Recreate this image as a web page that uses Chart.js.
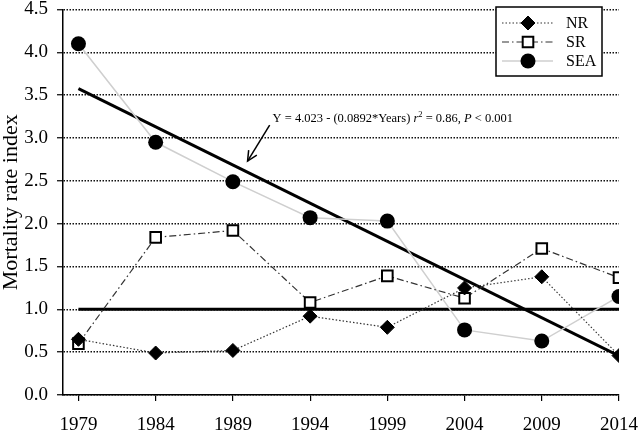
<!DOCTYPE html>
<html>
<head>
<meta charset="utf-8">
<script src="https://cdn.jsdelivr.net/npm/chart.js@4/dist/chart.umd.min.js"></script>
<style>
  html, body { margin: 0; padding: 0; background: #fff; }
  #wrap { width: 640px; height: 430px; }
</style>
</head>
<body>
<div id="wrap"><canvas id="c" width="640" height="430"></canvas></div>
<script>
// ---- data ----
const years = [1979, 1984, 1989, 1994, 1999, 2004, 2009, 2014];
const nrValues  = [0.65, 0.49, 0.52, 0.92, 0.79, 1.25, 1.38, 0.46];
const srValues  = [0.60, 1.84, 1.92, 1.08, 1.39, 1.13, 1.71, 1.37];
const seaValues = [4.10, 2.95, 2.49, 2.07, 2.03, 0.76, 0.63, 1.15];
const trendYears  = [1979, 2014];
const trendValues = [3.577, 0.455];
const refYears  = [1979, 2014];
const refValues = [1.0, 1.0];
const yTickValues = [0, 0.5, 1.0, 1.5, 2.0, 2.5, 3.0, 3.5, 4.0, 4.5];
const seriesNames = ['NR', 'SR', 'SEA'];
const yAxisTitle = 'Mortality rate index';
const equationParts = [
  ['Y = 4.023 - (0.0892*Years) ', 'n'],
  ['r', 'i'], ['2', 's'],
  [' = 0.86, ', 'n'],
  ['P', 'i'],
  [' < 0.001', 'n']
];

const FONT = '"Liberation Serif", "Times New Roman", serif';
const pts = (xs, ys) => xs.map((x, i) => ({ x: x, y: ys[i] }));

const datasets = [
  {
    label: seriesNames[0], data: pts(years, nrValues),
    borderColor: '#333', borderWidth: 1.2, borderDash: [1.5, 2],
    pointStyle: 'rectRot', pointRadius: 7, pointHoverRadius: 7,
    pointBackgroundColor: '#000', pointBorderColor: '#000', pointBorderWidth: 1
  },
  {
    label: seriesNames[1], data: pts(years, srValues),
    borderColor: '#333', borderWidth: 1.2, borderDash: [7, 3, 1.5, 3],
    pointStyle: 'rect', pointRadius: 7.5, pointHoverRadius: 7.5,
    pointBackgroundColor: '#fff', pointBorderColor: '#000', pointBorderWidth: 2
  },
  {
    label: seriesNames[2], data: pts(years, seaValues),
    borderColor: '#cfcfcf', borderWidth: 1.5, borderDash: [],
    pointStyle: 'circle', pointRadius: 7.5, pointHoverRadius: 7.5,
    pointBackgroundColor: '#000', pointBorderColor: '#000', pointBorderWidth: 0
  },
  {
    label: 'trend', data: pts(trendYears, trendValues),
    borderColor: '#000', borderWidth: 3, pointRadius: 0
  },
  {
    label: 'ref', data: pts(refYears, refValues),
    borderColor: '#000', borderWidth: 3, pointRadius: 0
  }
];

function drawMarker(ctx, style, x, y, r, fill, stroke, bw) {
  ctx.save();
  ctx.beginPath();
  if (style === 'rectRot') {
    ctx.moveTo(x, y - r); ctx.lineTo(x + r, y); ctx.lineTo(x, y + r); ctx.lineTo(x - r, y); ctx.closePath();
  } else if (style === 'rect') {
    const h = r * Math.SQRT1_2;
    ctx.rect(x - h, y - h, 2 * h, 2 * h);
  } else {
    ctx.arc(x, y, r, 0, Math.PI * 2);
  }
  ctx.fillStyle = fill; ctx.fill();
  if (bw > 0) { ctx.lineWidth = bw; ctx.strokeStyle = stroke; ctx.stroke(); }
  ctx.restore();
}

const extras = {
  id: 'extras',
  afterDraw(chart) {
    const ctx = chart.ctx;
    const xs = chart.scales.x, ys = chart.scales.y;
    // legend box
    ctx.save();
    ctx.fillStyle = '#fff';
    ctx.fillRect(496, 7, 106, 69);
    ctx.strokeStyle = '#000'; ctx.lineWidth = 1.5;
    ctx.strokeRect(496, 7, 106, 69);
    const rows = [23, 42, 61];
    for (let i = 0; i < 3; i++) {
      const ds = chart.data.datasets[i];
      const y = rows[i];
      ctx.save();
      ctx.strokeStyle = ds.borderColor; ctx.lineWidth = ds.borderWidth;
      ctx.setLineDash(ds.borderDash || []);
      ctx.beginPath(); ctx.moveTo(502, y); ctx.lineTo(553, y); ctx.stroke();
      ctx.restore();
      drawMarker(ctx, ds.pointStyle, 528, y, ds.pointRadius, ds.pointBackgroundColor, ds.pointBorderColor, ds.pointBorderWidth);
      ctx.fillStyle = '#000';
      ctx.font = '16px ' + FONT;
      ctx.textBaseline = 'middle';
      ctx.fillText(ds.label, 566, y + 1);
    }
    ctx.restore();

    // equation annotation
    ctx.save();
    let x = xs.getPixelForValue(1991.57);
    const by = ys.getPixelForValue(3.19);
    ctx.fillStyle = '#000';
    ctx.textBaseline = 'alphabetic';
    for (const [t, s] of equationParts) {
      if (s === 'i') ctx.font = 'italic 12.5px ' + FONT;
      else if (s === 's') ctx.font = '8.5px ' + FONT;
      else ctx.font = '12.5px ' + FONT;
      ctx.fillText(t, x, s === 's' ? by - 5 : by);
      x += ctx.measureText(t).width;
    }
    // arrow
    const ax0 = xs.getPixelForValue(1991.38), ay0 = ys.getPixelForValue(3.15);
    const ax1 = xs.getPixelForValue(1989.95), ay1 = ys.getPixelForValue(2.73);
    ctx.strokeStyle = '#000'; ctx.lineWidth = 1.5;
    ctx.beginPath(); ctx.moveTo(ax0, ay0); ctx.lineTo(ax1, ay1); ctx.stroke();
    const ang = Math.atan2(ay1 - ay0, ax1 - ax0);
    const L = 11;
    ctx.beginPath();
    ctx.moveTo(ax1 - L * Math.cos(ang - 0.45), ay1 - L * Math.sin(ang - 0.45));
    ctx.lineTo(ax1, ay1);
    ctx.lineTo(ax1 - L * Math.cos(ang + 0.45), ay1 - L * Math.sin(ang + 0.45));
    ctx.stroke();
    ctx.restore();
  }
};

new Chart(document.getElementById('c'), {
  type: 'line',
  data: { datasets: datasets },
  plugins: [extras],
  options: {
    responsive: false,
    animation: false,
    events: [],
    layout: { padding: { top: 8, right: 21, left: 0, bottom: 0 } },
    plugins: { legend: { display: false }, tooltip: { enabled: false } },
    elements: { line: { tension: 0 } },
    scales: {
      x: {
        type: 'linear', min: 1978, max: 2014,
        afterBuildTicks(s) { s.ticks = years.map(v => ({ value: v })); },
        afterFit(s) { s.height = 35; s.paddingLeft = 0; s.paddingRight = 0; },
        ticks: { color: '#000', font: { family: FONT, size: 19 }, padding: 13, maxRotation: 0, autoSkip: false,
                 callback: v => String(v) },
        grid: { drawOnChartArea: false, drawTicks: true, tickLength: 6, color: '#000', lineWidth: 1.2 },
        border: { color: '#000', width: 1.5 }
      },
      y: {
        min: 0, max: 4.5,
        afterBuildTicks(s) { s.ticks = yTickValues.map(v => ({ value: v })); },
        afterFit(s) { s.width = 63; s.paddingTop = 0; s.paddingBottom = 0; },
        ticks: { color: '#000', font: { family: FONT, size: 19 }, padding: 9,
                 callback: v => Number(v).toFixed(1) },
        grid: { color: '#111', lineWidth: 1.5, tickBorderDash: [], tickLength: 6,
                tickColor: '#000', tickWidth: 1.2 },
        border: { color: '#000', width: 1.5, dash: [1.5, 1.5] },
        title: { display: true, text: yAxisTitle, color: '#000', font: { family: FONT, size: 22, lineHeight: 1 },
                 padding: { top: 0, bottom: 0 } }
      }
    }
  }
});
</script>
</body>
</html>
